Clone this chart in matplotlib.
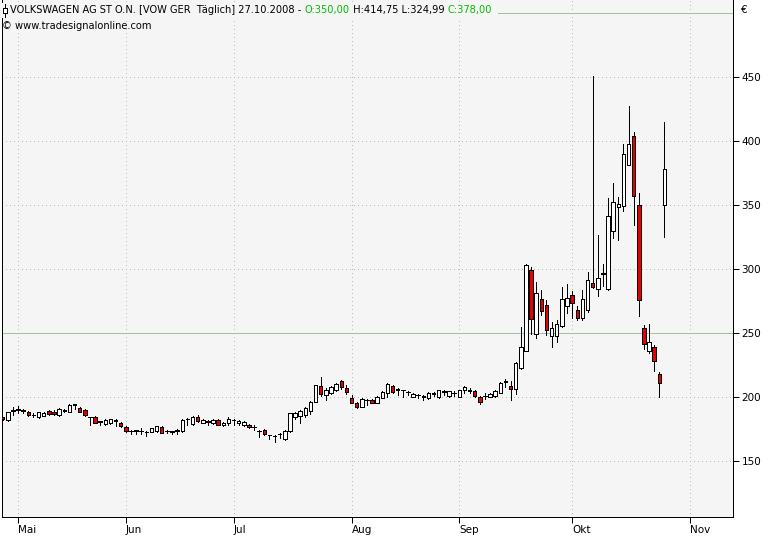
import matplotlib
matplotlib.use('Agg')
import matplotlib.pyplot as plt
from matplotlib.lines import Line2D
from matplotlib.patches import Rectangle

# ---------------- data (daily candles, 28.04.2008 - 27.10.2008) ----------------
opens = [184, 182, 189, 190, 189.2, 188, 186, 184, 185.5, 189,
         188.5, 186, 189.3, 188.5, 194, 191.7, 189.8, 184, 184, 180.6,
         179, 179.5, 181.3, 179.5, 176.4, 173.4, 173.6, 173.3, 172.3, 173,
         173.5, 176.9, 173.3, 172.8, 173.8, 173.5, 182.8, 179, 184.5, 180,
         180.8, 179.5, 182, 178.5, 180, 181.8, 179.5, 178.5, 178, 176.2,
         173.3, 174.3, 170.2, 169.4, 170.8, 167, 173.5, 184.7, 185.2, 186,
         189.4, 196.4, 208.5, 201.6, 203.4, 205.5, 212.7, 206.7, 199, 195.6,
         192.5, 197.3, 197.7, 195.6, 199.5, 203.4, 208.6, 205.5, 205.3, 204,
         200.3, 201.2, 200.4, 199, 202.6, 200, 204.1, 200.5, 203.2, 200.3,
         205.5, 205, 204.9, 200.3, 200.8, 200.3, 200.8, 203.4, 212, 208.6,
         206, 223, 236.3, 299.5, 249.6, 276.2, 272.2, 247.8, 247.8, 255.2,
         271.2, 279.4, 267.6, 261.8, 268.3, 289.3, 284.6, 296, 284.6, 329.5,
         348.2, 349, 380.9, 403.8, 350, 254.3, 236.1, 238.7, 217.7, 350]
highs = [184.5, 188.5, 192, 193.2, 190.4, 189, 187.3, 188.5, 188, 190,
         189.5, 191.5, 190.5, 194.5, 194.5, 192.5, 190.5, 184.7, 185, 181.5,
         183, 183, 182.6, 180.5, 177, 174, 174.5, 175.6, 173.2, 175.8,
         177.2, 177.5, 174, 173.5, 175, 182.5, 183.8, 185, 186, 182.5,
         182, 182.5, 182.5, 180.5, 184, 182.5, 182, 181, 179, 178,
         174, 175, 170.6, 170, 171.5, 174, 187.5, 188.6, 189.8, 192,
         196.8, 209.6, 215.3, 206.7, 208.5, 211, 213.5, 209.3, 201.3, 196,
         199, 198.2, 198.5, 201, 204.5, 210.6, 209.2, 207, 205.8, 205,
         203, 202, 201.2, 203.8, 203.6, 205.8, 205.5, 205, 204.5, 205.8,
         208.6, 206.7, 205.5, 201, 203.4, 202.8, 205.3, 212, 213.8, 212.3,
         227, 254.5, 304.3, 301.8, 290, 284, 276, 258.3, 260.3, 285.8,
         288.5, 282.5, 271, 283.3, 297.5, 450.8, 326.2, 303.6, 355.2, 367.4,
         356.5, 398, 427.4, 407.2, 359.4, 256, 256.9, 240.5, 219.7, 414.75]
lows = [182, 181.5, 186, 187.3, 187.3, 185.5, 184.7, 183.5, 185, 186,
        186, 185.5, 188, 188, 191, 188, 185.5, 178.2, 179.5, 178.5,
        178.5, 179, 177, 176.5, 173, 171.2, 171.2, 171.2, 169.5, 172.5,
        173, 172, 171.5, 170.8, 171, 173, 178, 178, 180.8, 179.5,
        178.5, 179, 178, 177, 178.5, 178.5, 178.5, 177, 175.5, 174,
        169, 170.5, 167, 165.2, 168.3, 166.5, 173, 182.6, 180, 184.5,
        186.5, 196, 201, 198, 202, 204.5, 206, 202.3, 195, 191.5,
        192, 193.8, 195, 195, 199, 199.7, 203.5, 201.5, 200.3, 201.6,
        199.8, 199, 197.7, 198.5, 200.5, 199.5, 201.5, 200, 201, 199.8,
        202.8, 202.8, 200, 194.5, 198.2, 199.8, 200.3, 203, 208, 198,
        202, 221.5, 236, 249.3, 246.3, 263.9, 248.5, 239.2, 243, 255,
        266, 261.8, 260.2, 260.5, 266.4, 285.5, 278.9, 286.5, 284, 324.1,
        322.3, 345.6, 380.9, 334.2, 263.1, 237.4, 234, 220.5, 200.3, 324.99]
closes = [183, 188, 190, 190.5, 189.6, 186.2, 186.2, 188, 187.5, 186.5,
          186.5, 190.4, 189.7, 194, 194.3, 188.6, 186, 184.3, 180, 181,
          182, 182.5, 181.7, 177, 173.8, 173.7, 173.9, 173.6, 172.6, 175.6,
          177, 172.2, 173.6, 173.2, 174.2, 182, 183.1, 184, 181.5, 182,
          181.2, 182, 178.5, 180, 183, 182.2, 181.5, 180.5, 176.2, 176.6,
          173.7, 171, 170.5, 169.8, 171.2, 173.8, 187.3, 187.8, 189.4, 191.2,
          196.4, 209.3, 202.3, 205.5, 208, 210, 207.5, 204, 195.6, 192,
          198.4, 197.7, 195.6, 200.3, 204.2, 210.1, 204.2, 206.5, 205.6, 204.3,
          202.5, 201.5, 200.7, 203.4, 202.9, 205.5, 204.4, 204.6, 203.5, 205.5,
          207.8, 205.3, 200.5, 196.4, 201.1, 202.3, 204.7, 211.3, 212.3, 206.4,
          226.2, 239.2, 303.5, 261.3, 281.5, 267.2, 252, 254.3, 257.4, 276.2,
          277.6, 273.7, 261.8, 276.8, 291.8, 286, 293.2, 296.6, 341.7, 352.1,
          350.8, 389.8, 397.5, 356.8, 276, 241.8, 242.6, 228.3, 210.6, 378]

month_labels = ['Mai', 'Jun', 'Jul', 'Aug', 'Sep', 'Okt', 'Nov']
month_index = [3, 24, 45, 68, 89, 111, 134]   # trading-day index of 1st session
price_ticks = [150, 200, 250, 300, 350, 400, 450]
ref_lines = [250, 500]

header_parts = [("VOLKSWAGEN AG ST O.N. [VOW GER  Täglich] 27.10.2008 - ", 'black'),
                ("O:350,00", '#00bb00'),
                (" H:414,75 L:324,99 ", 'black'),
                ("C:378,00", '#00bb00')]
copyright_text = "© www.tradesignalonline.com"

# ---------------- figure ----------------
W, H = 769, 536
fig = plt.figure(figsize=(W / 100, H / 100), dpi=100)
fig.patch.set_facecolor('white')
ax = fig.add_axes([2 / W, 19 / H, 731 / W, 517 / H])
ax.set_facecolor('#f5f5f5')
ax.set_xlim(-0.136, 142.36)
ax.set_ylim(106.25, 510.2)

PX = 0.72  # 1 pixel in points

# grid
for p in price_ticks:
    if p not in ref_lines:
        ax.axhline(p, color='#b4bdb4', lw=PX, ls=(0, (1, 3)), antialiased=False, zorder=1)
for m in month_index:
    ax.axvline(m, color='#b4c4b4', lw=PX, ls=(0, (1, 3)), antialiased=False, zorder=1)
for r in ref_lines:
    ax.axhline(r, color='#a3c0a3', lw=PX, antialiased=False, zorder=1)

# candles
idx = list(range(len(opens)))
ax.vlines(idx, lows, highs, color='black', lw=PX, antialiased=False, zorder=2)
bottoms = [min(o, c) for o, c in zip(opens, closes)]
heights = [abs(c - o) for o, c in zip(opens, closes)]
colors = ['white' if c >= o else '#e80000' for o, c in zip(opens, closes)]
ax.bar(idx, heights, width=0.68, bottom=bottoms, color=colors,
       edgecolor='black', linewidth=PX, antialiased=False, zorder=3)

# spines
ax.spines['top'].set_visible(False)
for s in ['left', 'right', 'bottom']:
    ax.spines[s].set_color('black')
    ax.spines[s].set_linewidth(PX)

# axes ticks
FONT = 'DejaVu Sans'
ax.yaxis.tick_right()
ax.set_yticks(price_ticks)
ax.set_yticklabels([str(p) for p in price_ticks])
ax.tick_params(axis='y', direction='out', length=4.5, width=PX, pad=1.5,
               labelsize=7.5, colors='black', left=False)
ax.set_xticks(month_index)
ax.set_xticklabels(month_labels)
ax.tick_params(axis='x', direction='out', length=4.5, width=PX, pad=1.0,
               labelsize=7.5, colors='black')
for t in ax.get_xticklabels() + ax.get_yticklabels():
    t.set_family(FONT)
for t in ax.get_xticklabels():
    t.set_ha('left')

# header
renderer = fig.canvas.get_renderer()
full = ''.join(p for p, _ in header_parts)


def width_px(s, fs):
    t = fig.text(0, 0, s + '|', fontsize=fs, family=FONT)
    t2 = fig.text(0, 0, '|', fontsize=fs, family=FONT)
    w = t.get_window_extent(renderer).width - t2.get_window_extent(renderer).width
    t.remove(); t2.remove()
    return w


fs = 8.0
fs = fs * 485.0 / width_px(full, fs)

# background box behind header (hides the top reference line)
fig.add_artist(Rectangle((0, 1 - 18 / H), 498 / W, 15 / H, transform=fig.transFigure,
                         facecolor='#f5f5f5', edgecolor='none', zorder=5))
x0 = 10
prefix = ''
for s, col in header_parts:
    xp = x0 + width_px(prefix, fs) if prefix else x0
    fig.text(xp / W, 1 - 10 / H, s, fontsize=fs, family=FONT, color=col,
             ha='left', va='center', zorder=6)
    prefix += s

fig.text(2 / W, 1 - 26 / H, copyright_text, fontsize=fs, family=FONT, color='black',
         ha='left', va='center', zorder=6)

# candle icon before the header
fig.add_artist(Line2D([5 / W, 5 / W], [1 - 4 / H, 1 - 17 / H], transform=fig.transFigure,
                      color='black', lw=PX, antialiased=False, zorder=7))
fig.add_artist(Rectangle((3 / W, 1 - 13 / H), 4 / W, 5 / H, transform=fig.transFigure,
                         facecolor='white', edgecolor='black', lw=PX, antialiased=False, zorder=8))

# currency sign
fig.text(741 / W, 1 - 10 / H, '€', fontsize=7.5, family=FONT, color='black',
         ha='left', va='center')

fig.savefig('out.png', dpi=100, facecolor='white')
